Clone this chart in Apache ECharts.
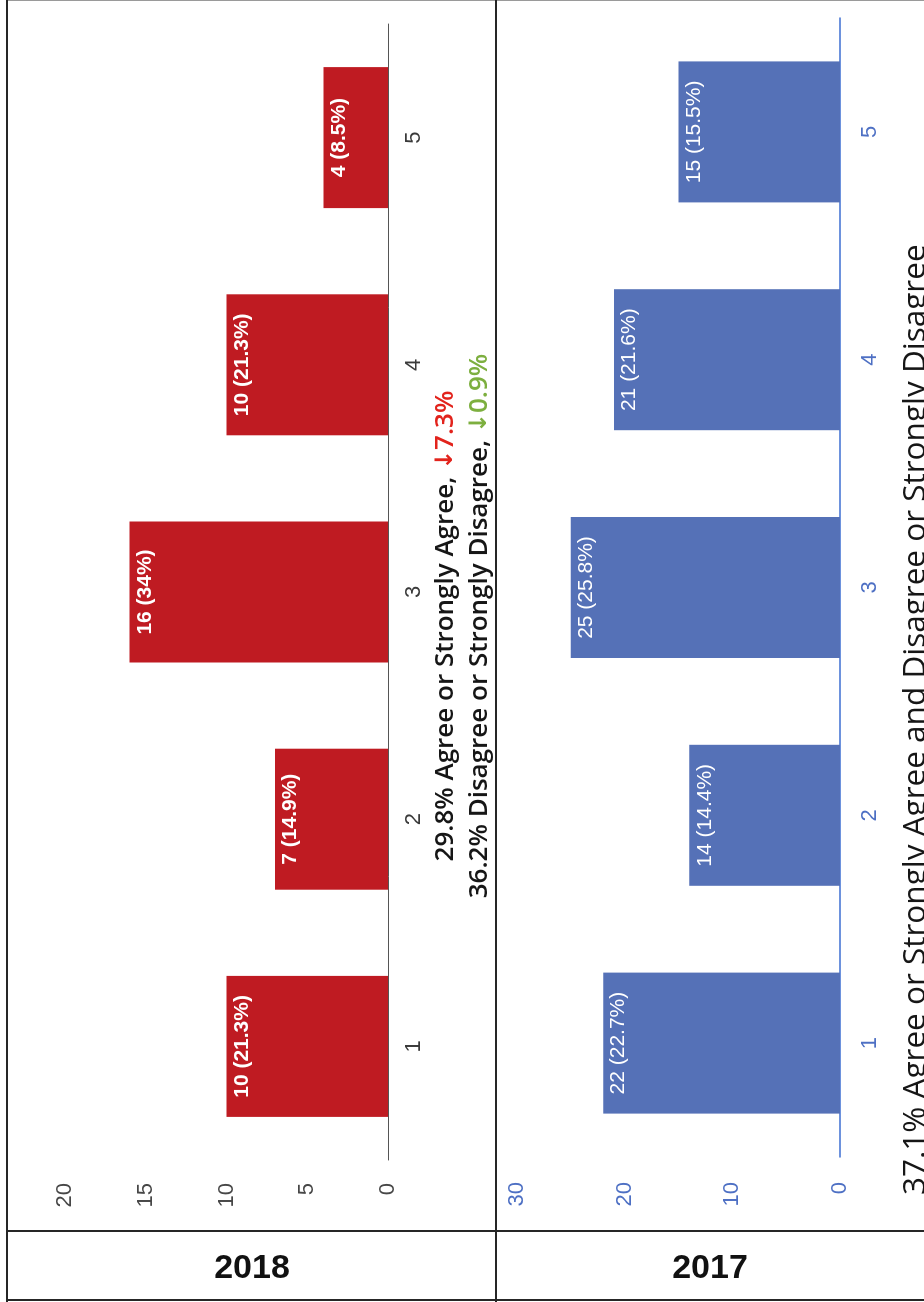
<!DOCTYPE html>
<html>
<head>
<meta charset="utf-8">
<script src="https://cdn.jsdelivr.net/npm/echarts@6/dist/echarts.min.js"></script>
<style>
  html, body { margin: 0; padding: 0; background: #fff; width: 924px; height: 1302px; overflow: hidden; }
  /* The chart is laid out as a landscape page and turned a quarter turn counter-clockwise. */
  #chart { position: absolute; left: 0; top: 0; width: 1302px; height: 924px;
           transform-origin: 0 0; transform: translate(0, 1302px) rotate(-90deg); }
  .rule { position: absolute; background: #262626; }
  .year { position: absolute; font: bold 34px "Liberation Sans", Arial, sans-serif; color: #111;
          transform: translate(-50%, -50%); white-space: nowrap; }
</style>
</head>
<body>
<div id="chart"></div>
<div class="rule" style="left:6px; top:0; width:918px; height:1px; background:#9a9a9a"></div>
<div class="rule" style="left:6px; top:0; width:2px; height:1302px"></div>
<div class="rule" style="left:495px; top:0; width:2px; height:1302px"></div>
<div class="rule" style="left:6px; top:1230px; width:918px; height:2px"></div>
<div class="rule" style="left:6px; top:1299px; width:918px; height:2px"></div>
<div class="year" style="left:252px; top:1266px">2018</div>
<div class="year" style="left:710px; top:1266px">2017</div>
<script>
// Response scale 1–5
const categories = ['1', '2', '3', '4', '5'];

// 2018 responses
const counts2018 = [10, 7, 16, 10, 4];
const pct2018 = [21.3, 14.9, 34, 21.3, 8.5];

// 2017 responses
const counts2017 = [22, 14, 25, 21, 15];
const pct2017 = [22.7, 14.4, 25.8, 21.6, 15.5];

// Value axis ranges
const axis2018 = { min: 0, max: 20, interval: 5 };
const axis2017 = { min: 0, max: 30, interval: 10 };

// Summary lines
const summary2018 = ['29.8% Agree or Strongly Agree, ', '\u2193', '7.3%',
                     '36.2% Disagree or Strongly Disagree, ', '\u2193', '0.9%'];
const summary2017 = '37.1% Agree or Strongly Agree and Disagree or Strongly Disagree';

const RED = '#BF1B22';
const BLUE = '#5571B7';
const AXIS_BLUE = '#3E6FD2';
const LABEL_BLUE = '#4E70C4';
const SANS = '"Liberation Sans", Arial, sans-serif';
const NOTE = '"Open Sans", "Noto Sans", sans-serif';
const ARROW = '"DejaVu Sans", sans-serif';

const chart = echarts.init(document.getElementById('chart'), null, { renderer: 'canvas' });

function labelFmt(pcts) {
  return p => p.value + ' (' + pcts[p.dataIndex] + '%)';
}

chart.setOption({
  animation: false,
  backgroundColor: 'transparent',
  grid: [
    { left: 142, width: 1136, top: 65, height: 323 },
    { left: 145, width: 1139, top: 517, height: 323 }
  ],
  xAxis: [
    { gridIndex: 0, type: 'category', data: categories,
      axisLine: { lineStyle: { color: '#555', width: 1 } },
      axisTick: { show: false },
      axisLabel: { margin: 15, fontSize: 22, color: '#3a3a3a', fontFamily: SANS } },
    { gridIndex: 1, type: 'category', data: categories,
      axisLine: { lineStyle: { color: AXIS_BLUE, width: 1.5 } },
      axisTick: { show: false },
      axisLabel: { margin: 19, fontSize: 22, color: LABEL_BLUE, fontFamily: SANS } }
  ],
  yAxis: [
    { gridIndex: 0, type: 'value', min: axis2018.min, max: axis2018.max, interval: axis2018.interval,
      splitLine: { show: false }, axisLine: { show: false }, axisTick: { show: false },
      axisLabel: { margin: 23, fontSize: 22, color: '#474747', fontFamily: SANS } },
    { gridIndex: 1, type: 'value', min: axis2017.min, max: axis2017.max, interval: axis2017.interval,
      splitLine: { show: false }, axisLine: { show: false }, axisTick: { show: false },
      axisLabel: { margin: 25, fontSize: 22, color: LABEL_BLUE, fontFamily: SANS } }
  ],
  series: [
    { type: 'bar', xAxisIndex: 0, yAxisIndex: 0, data: counts2018, barWidth: 141,
      itemStyle: { color: RED },
      label: { show: true, position: 'insideTop', distance: 5, color: '#fff',
               fontSize: 21, fontWeight: 'bold', fontFamily: SANS, formatter: labelFmt(pct2018) } },
    { type: 'bar', xAxisIndex: 1, yAxisIndex: 1, data: counts2017, barWidth: 141,
      itemStyle: { color: BLUE },
      label: { show: true, position: 'insideTop', distance: 5, color: '#fff',
               fontSize: 21, fontFamily: SANS, formatter: labelFmt(pct2017) } }
  ],
  graphic: [
    { type: 'text', x: 676, y: 446, silent: true,
      style: { text: '{k|' + summary2018[0] + '}{ra|' + summary2018[1] + '}{r|' + summary2018[2] + '}',
               textAlign: 'center', textVerticalAlign: 'middle',
               rich: { k: { font: '600 26px ' + NOTE, fill: '#161616' },
                       ra: { font: 'bold 24px ' + ARROW, fill: '#E2231C' },
                       r: { font: '600 26px ' + NOTE, fill: '#E2231C' } } } },
    { type: 'text', x: 676, y: 480, silent: true,
      style: { text: '{k|' + summary2018[3] + '}{ga|' + summary2018[4] + '}{g|' + summary2018[5] + '}',
               textAlign: 'center', textVerticalAlign: 'middle',
               rich: { k: { font: '600 26px ' + NOTE, fill: '#161616' },
                       ga: { font: 'bold 24px ' + ARROW, fill: '#7DAF3F' },
                       g: { font: '600 26px ' + NOTE, fill: '#7DAF3F' } } } },
    { type: 'text', x: 107, y: 916, silent: true,
      style: { text: summary2017, font: '31.5px ' + NOTE, fill: '#161616',
               textAlign: 'left', textVerticalAlign: 'middle' } }
  ]
});
</script>
</body>
</html>
